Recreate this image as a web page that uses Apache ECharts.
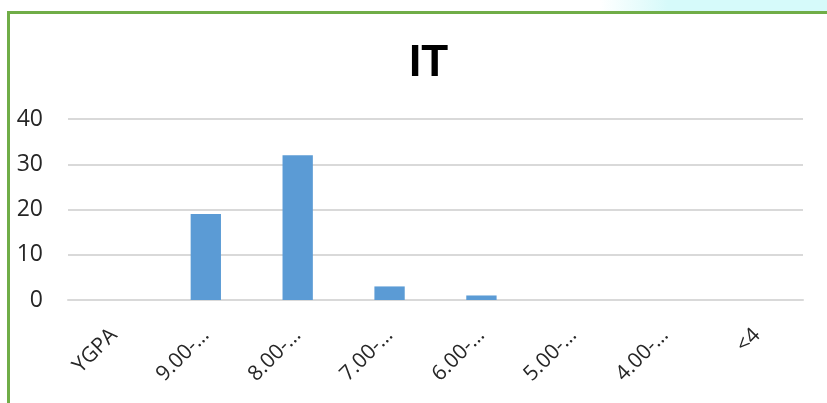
<!DOCTYPE html>
<html>
<head>
<meta charset="utf-8">
<script src="https://cdn.jsdelivr.net/npm/echarts@6/dist/echarts.min.js"></script>
<style>
  html, body { margin: 0; padding: 0; background: #fff; }
  #chart { width: 827px; height: 403px; }
</style>
</head>
<body>
<div id="chart"></div>
<script>
  // chart data
  var categories = ['YGPA', '9.00-…', '8.00-…', '7.00-…', '6.00-…', '5.00-…', '4.00-…', '<4'];
  var counts = [0, 19, 32, 3, 1, 0, 0, 0];
  var yTicks = [0, 10, 20, 30, 40];

  var chart = echarts.init(document.getElementById('chart'));

  chart.setOption({
    animation: false,
    backgroundColor: '#fff',
    textStyle: { fontFamily: 'Open Sans, Liberation Sans, sans-serif' },
    title: {
      text: 'IT',
      left: 404,
      top: 37,
      textStyle: {
        fontFamily: 'Liberation Sans',
        fontSize: 44,
        fontWeight: 'bold',
        color: '#000'
      }
    },
    graphic: [
      // light cyan strip above the frame
      {
        type: 'rect',
        shape: { x: 600, y: 0, width: 227, height: 11 },
        style: {
          fill: new echarts.graphic.LinearGradient(0, 0, 1, 0, [
            { offset: 0, color: 'rgba(214,250,250,0)' },
            { offset: 0.3, color: 'rgba(214,250,250,1)' },
            { offset: 1, color: 'rgba(214,250,250,1)' }
          ])
        },
        silent: true
      },
      // green frame, top and left
      {
        type: 'rect',
        shape: { x: 7, y: 11, width: 820, height: 3 },
        style: { fill: '#70AD47' },
        silent: true
      },
      {
        type: 'rect',
        shape: { x: 7, y: 11, width: 3, height: 392 },
        style: { fill: '#70AD47' },
        silent: true
      }
    ],
    grid: {
      left: 68,
      right: 24,
      top: 119,
      bottom: 103
    },
    xAxis: {
      type: 'category',
      data: categories,
      axisLine: { lineStyle: { color: '#D9D9D9', width: 2 } },
      axisTick: { show: false },
      axisLabel: {
        interval: 0,
        rotate: 45,
        margin: 32,
        fontSize: 21,
        color: '#262626'
      }
    },
    yAxis: {
      type: 'value',
      min: yTicks[0],
      max: yTicks[yTicks.length - 1],
      interval: 10,
      axisLine: { show: false },
      axisTick: { show: false },
      axisLabel: {
        fontSize: 23,
        margin: 25,
        color: '#262626'
      },
      splitLine: { lineStyle: { color: '#D9D9D9', width: 2 } }
    },
    series: [{
      type: 'bar',
      data: counts,
      barWidth: '33%',
      itemStyle: { color: '#5B9BD5' }
    }]
  });
</script>
</body>
</html>
